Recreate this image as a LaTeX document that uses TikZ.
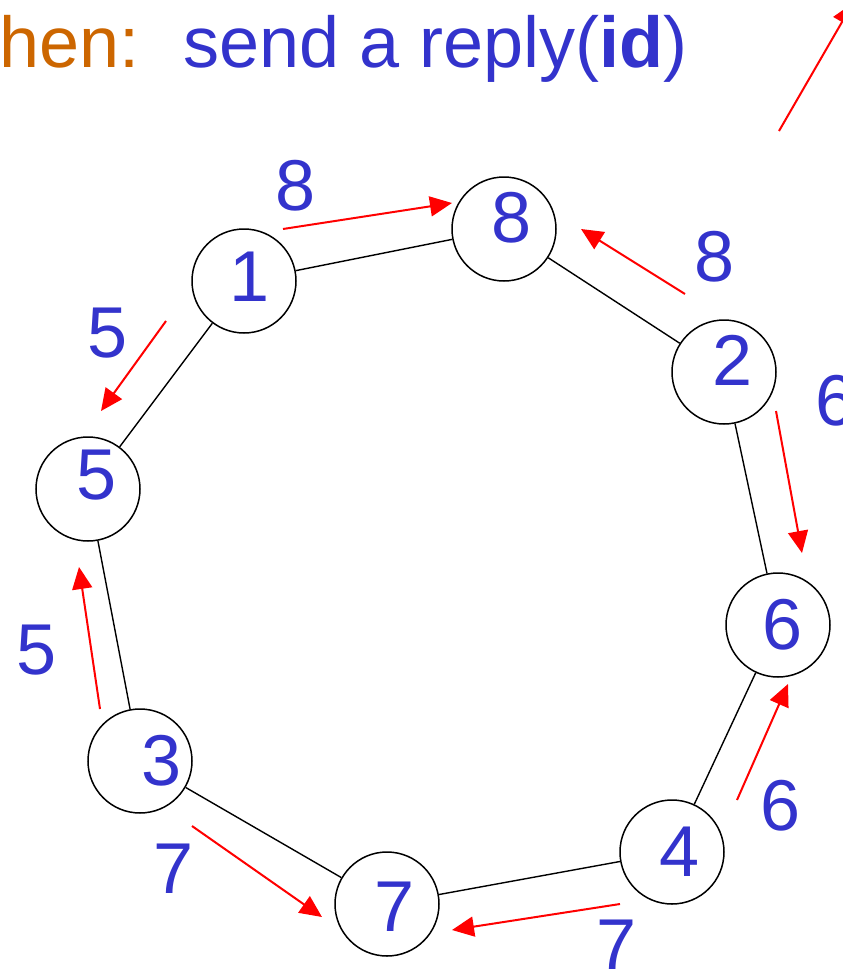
\documentclass[tikz,border=0pt]{standalone}
\usepackage{fontspec}
\setmainfont{Liberation Sans}
\usepackage{xcolor}
\usetikzlibrary{arrows.meta}
\definecolor{idblue}{RGB}{51,51,204}
\definecolor{thenorange}{RGB}{204,102,0}
\newcommand{\bigfont}{\fontsize{72}{80}\selectfont}

\begin{document}
\begin{tikzpicture}[x=1pt, y=-1pt,
    proc/.style={draw, circle, line width=1.5pt, minimum size=104pt, inner sep=0pt},
    idlabel/.style={font=\bigfont, text=idblue},
    ring/.style={line width=1.4pt},
    msg/.style={red, line width=2pt, -{Triangle[length=22pt, width=20pt]}},
    val/.style={font=\bigfont, text=idblue}]
  \clip (0,0) rectangle (843,970);

  \node[anchor=base east, font=\bigfont, text=thenorange] (then) at (143,67) {Then:};
  \node[anchor=base west, font=\bigfont, text=idblue] (reply) at (180,67) {send a reply(\textbf{id})};

  \node[proc, label={[idlabel, xshift=6pt, yshift=4pt]center:1}] (n1) at (244,281) {};
  \node[proc, label={[idlabel, xshift=8pt, yshift=11pt]center:8}] (n8) at (504,229) {};
  \node[proc, label={[idlabel, xshift=9pt, yshift=12pt]center:2}] (n2) at (724,372) {};
  \node[proc, label={[idlabel, xshift=5pt]center:6}] (n6) at (778,625) {};
  \node[proc, label={[idlabel, xshift=8pt]center:4}] (n4) at (672,852) {};
  \node[proc, label={[idlabel, xshift=8pt, yshift=-3pt]center:7}] (n7) at (387,904) {};
  \node[proc, label={[idlabel, xshift=22pt]center:3}] (n3) at (140,761) {};
  \node[proc, label={[idlabel, xshift=9pt, yshift=14pt]center:5}] (n5) at (88,489) {};

  \draw[ring] (n1) -- (n8);
  \draw[ring] (n8) -- (n2);
  \draw[ring] (n2) -- (n6);
  \draw[ring] (n6) -- (n4);
  \draw[ring] (n4) -- (n7);
  \draw[ring] (n7) -- (n3);
  \draw[ring] (n3) -- (n5);
  \draw[ring] (n5) -- (n1);

  \coordinate (a18) at (283,229); \coordinate (b18) at (452,203);
  \coordinate (a28) at (685,294); \coordinate (b28) at (581,229);
  \coordinate (a15) at (166,321); \coordinate (b15) at (101,411);
  \coordinate (a26) at (776,411); \coordinate (b26) at (802,553);
  \coordinate (a35) at (100,709); \coordinate (b35) at (79,567);
  \coordinate (a37) at (192,826); \coordinate (b37) at (322,917);
  \coordinate (a47) at (620,904); \coordinate (b47) at (452,930);
  \coordinate (a46) at (737,800); \coordinate (b46) at (788,684);
  \coordinate (aup) at (779,131); \coordinate (bup) at (853,3);

  \draw[msg] (a18) -- (b18);
  \draw[msg] (a28) -- (b28);
  \draw[msg] (a15) -- (b15);
  \draw[msg] (a26) -- (b26);
  \draw[msg] (a35) -- (b35);
  \draw[msg] (a37) -- (b37);
  \draw[msg] (a47) -- (b47);
  \draw[msg] (a46) -- (b46);
  \draw[msg] (aup) -- (bup);

  \node[val] (v18) at (296,186) {8};
  \node[val] (v28) at (715,257) {8};
  \node[val] (v26) at (836,401) {6};
  \node[val] (v15) at (108,333) {5};
  \node[val] (v35) at (37,650) {5};
  \node[val] (v37) at (174,869) {7};
  \node[val] (v47) at (617,945) {7};
  \node[val] (v46) at (781,806) {6};
\end{tikzpicture}
\end{document}
